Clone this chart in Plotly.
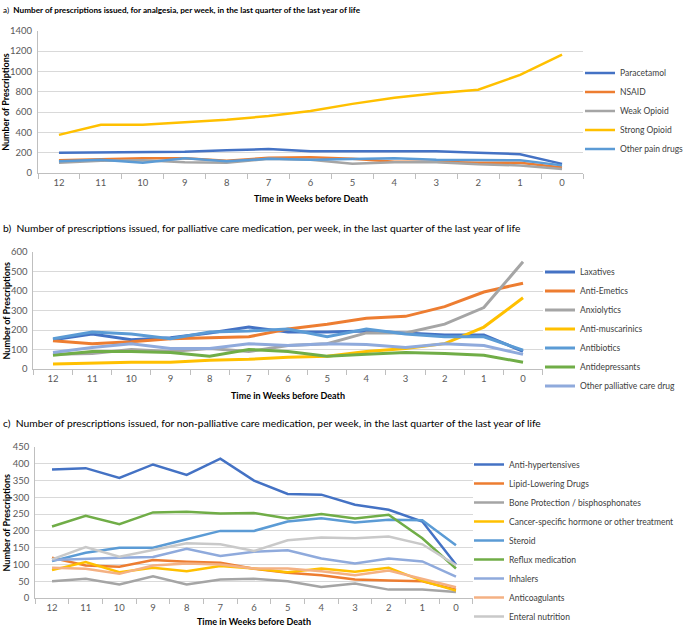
import plotly.graph_objects as go

weeks = ["12", "11", "10", "9", "8", "7", "6", "5", "4", "3", "2", "1", "0"]

# Panel a: analgesia
a_names = ["Paracetamol", "NSAID", "Weak Opioid", "Strong Opioid", "Other pain drugs"]
paracetamol = [200, 205, 210, 210, 225, 235, 215, 215, 220, 215, 200, 185, 90]
nsaid = [125, 135, 145, 145, 120, 150, 155, 140, 110, 110, 100, 100, 55]
weak_opioid = [100, 120, 125, 105, 100, 140, 130, 90, 105, 105, 85, 75, 40]
strong_opioid = [375, 475, 475, 500, 525, 560, 610, 680, 740, 785, 820, 965, 1165]
other_pain = [115, 130, 100, 145, 115, 140, 130, 135, 145, 130, 130, 125, 75]
a_values = [paracetamol, nsaid, weak_opioid, strong_opioid, other_pain]
a_colors = ["#4472C4", "#ED7D31", "#A5A5A5", "#FFC000", "#5B9BD5"]

# Panel b: palliative care medication
b_names = ["Laxatives", "Anti-Emetics", "Anxiolytics", "Anti-muscarinics", "Antibiotics",
           "Antidepressants", "Other palliative care drug"]
laxatives = [150, 180, 150, 160, 185, 215, 190, 190, 195, 185, 175, 175, 90]
anti_emetics = [145, 130, 140, 155, 160, 165, 205, 230, 260, 270, 320, 395, 440]
anxiolytics = [75, 80, 100, 90, 105, 90, 120, 130, 185, 185, 230, 315, 550]
anti_muscarinics = [25, 30, 35, 35, 45, 50, 60, 65, 90, 105, 130, 215, 365]
antibiotics = [155, 190, 180, 155, 190, 195, 205, 165, 205, 180, 165, 165, 97]
antidepressants = [70, 90, 90, 85, 65, 100, 90, 65, 75, 85, 80, 70, 35]
other_palliative = [85, 110, 130, 105, 105, 130, 120, 130, 125, 110, 130, 120, 75]
b_values = [laxatives, anti_emetics, anxiolytics, anti_muscarinics, antibiotics,
            antidepressants, other_palliative]
b_colors = ["#4472C4", "#ED7D31", "#A5A5A5", "#FFC000", "#5B9BD5", "#70AD47", "#8FAADC"]

# Panel c: non-palliative care medication
c_names = ["Anti-hypertensives", "Lipid-Lowering Drugs", "Bone Protection / bisphosphonates",
           "Cancer-specific hormone or other treatment", "Steroid", "Reflux medication",
           "Inhalers", "Anticoagulants", "Enteral nutrition"]
anti_hypertensives = [383, 387, 358, 398, 367, 415, 350, 310, 308, 278, 263, 228, 100]
lipid_lowering = [120, 97, 93, 113, 108, 105, 87, 75, 68, 55, 52, 50, 25]
bone_protection = [50, 57, 40, 65, 40, 55, 57, 50, 33, 43, 25, 25, 18]
cancer_specific = [83, 107, 77, 90, 80, 95, 88, 77, 88, 78, 90, 51, 22]
steroid = [110, 135, 150, 150, 175, 200, 200, 228, 238, 225, 233, 232, 157]
reflux = [213, 245, 220, 255, 257, 252, 253, 237, 250, 237, 248, 178, 88]
inhalers = [113, 117, 120, 122, 147, 125, 138, 142, 118, 103, 118, 109, 64]
anticoagulants = [90, 87, 72, 97, 103, 100, 88, 88, 80, 68, 82, 58, 32]
enteral = [115, 152, 123, 143, 163, 160, 140, 172, 180, 178, 183, 160, 98]
c_values = [anti_hypertensives, lipid_lowering, bone_protection, cancer_specific, steroid,
            reflux, inhalers, anticoagulants, enteral]
c_colors = ["#4472C4", "#ED7D31", "#A5A5A5", "#FFC000", "#5B9BD5", "#70AD47", "#8FAADC",
            "#F4B183", "#C9C9C9"]

W, H = 685, 627
FONT = "Lato, 'Open Sans', sans-serif"

def px(y):
    return 1 - y / H

def pxx(x):
    return x / W

fig = go.Figure()

panels = [
    dict(names=a_names, vals=a_values, cols=a_colors, xa="x", ya="y", leg="legend", width=2.5),
    dict(names=b_names, vals=b_values, cols=b_colors, xa="x2", ya="y2", leg="legend2", width=3),
    dict(names=c_names, vals=c_values, cols=c_colors, xa="x3", ya="y3", leg="legend3", width=2.5),
]
for p in panels:
    for n, v, c in zip(p["names"], p["vals"], p["cols"]):
        fig.add_trace(go.Scatter(x=weeks, y=v, name=n, mode="lines",
                                 line=dict(color=c, width=p["width"]),
                                 xaxis=p["xa"], yaxis=p["ya"], legend=p["leg"]))

tickfont = dict(family=FONT, size=9.5, color="#595959")
axis_common = dict(type="category", range=[-0.5, 12.5], showline=True, linecolor="#BFBFBF",
                   linewidth=1, ticks="outside", tickson="boundaries", ticklen=5,
                   tickcolor="#BFBFBF", showgrid=False, tickfont=tickfont, fixedrange=True,
                   automargin=False, ticklabelstandoff=1)
yaxis_common = dict(showline=True, linecolor="#BFBFBF", linewidth=1, gridcolor="#D9D9D9",
                    gridwidth=1, tickfont=tickfont, ticks="", zeroline=False, fixedrange=True,
                    automargin=False, ticklabelstandoff=3)

# Panel domains (pixels)
dom = {
    "a": dict(x0=38, x1=583, top=30.7, bot=173),
    "b": dict(x0=33.4, x1=542.6, top=252, bot=369),
    "c": dict(x0=35.2, x1=472.8, top=447, bot=598),
}

legcommon = dict(xanchor="left", yanchor="top", bgcolor="rgba(0,0,0,0)", itemwidth=30)
legfont = dict(family=FONT, size=8.5, color="#404040")

fig.update_layout(
    width=W, height=H, margin=dict(l=0, r=0, t=0, b=0, autoexpand=False),
    plot_bgcolor="white", paper_bgcolor="white",
    font=dict(family=FONT, size=10, color="#404040"),
    xaxis=dict(domain=[pxx(dom["a"]["x0"]), pxx(dom["a"]["x1"])], anchor="y", **axis_common),
    yaxis=dict(domain=[px(dom["a"]["bot"]), px(dom["a"]["top"])], anchor="x",
               range=[0, 1400], dtick=200, **yaxis_common),
    xaxis2=dict(domain=[pxx(dom["b"]["x0"]), pxx(dom["b"]["x1"])], anchor="y2", **axis_common),
    yaxis2=dict(domain=[px(dom["b"]["bot"]), px(dom["b"]["top"])], anchor="x2",
                range=[0, 600], dtick=100, **yaxis_common),
    xaxis3=dict(domain=[pxx(dom["c"]["x0"]), pxx(dom["c"]["x1"])], anchor="y3", **axis_common),
    yaxis3=dict(domain=[px(dom["c"]["bot"]), px(dom["c"]["top"])], anchor="x3",
                range=[0, 450], dtick=50, **yaxis_common),
    legend=dict(x=pxx(580), y=px(58.5), font=legfont, **legcommon),
    legend2=dict(x=pxx(540), y=px(257.5), font=legfont, **legcommon),
    legend3=dict(x=pxx(469), y=px(450), font=legfont, **legcommon),
    showlegend=True,
)

ann = []
# Titles
ann.append(dict(x=pxx(1), y=px(10), xref="paper", yref="paper", xanchor="left", yanchor="middle",
                showarrow=False,
                text="a)  <b>Number of prescriptions issued, for analgesia, per week, in the last quarter of the last year of life</b>",
                font=dict(family=FONT, size=8.2, color="#000000")))
ann.append(dict(x=pxx(1), y=px(228), xref="paper", yref="paper", xanchor="left", yanchor="middle",
                showarrow=False,
                text="b)  Number of prescriptions issued, for palliative care medication, per week, in the last quarter of the last year of life",
                font=dict(family=FONT, size=10.3, color="#000000")))
ann.append(dict(x=pxx(1), y=px(423), xref="paper", yref="paper", xanchor="left", yanchor="middle",
                showarrow=False,
                text="c)  Number of prescriptions issued, for non-palliative care medication, per week, in the last quarter of the last year of life",
                font=dict(family=FONT, size=10.3, color="#000000")))
# Axis titles
for k, ty in [("a", 198), ("b", 395), ("c", 621)]:
    d = dom[k]
    ann.append(dict(x=pxx((d["x0"] + d["x1"]) / 2), y=px(ty), xref="paper", yref="paper",
                    xanchor="center", yanchor="middle", showarrow=False,
                    text="<b>Time in Weeks before Death</b>",
                    font=dict(family=FONT, size=9, color="#000000")))
    ann.append(dict(x=pxx(6), y=px((d["top"] + d["bot"]) / 2), xref="paper", yref="paper",
                    xanchor="center", yanchor="middle", showarrow=False, textangle=-90,
                    text="<b>Number of Prescriptions</b>",
                    font=dict(family=FONT, size=9, color="#000000")))
fig.update_layout(annotations=ann)

fig.write_html("out.html", config={"displayModeBar": False},
               post_script="document.body.style.margin='0px';document.body.style.padding='0px';")
